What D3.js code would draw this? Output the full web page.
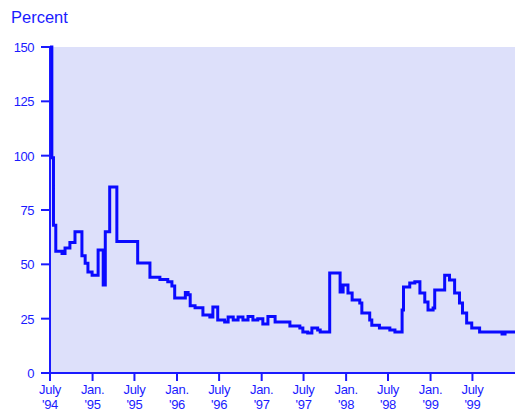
<!DOCTYPE html>
<html>
<head>
<meta charset="utf-8">
<script src="https://cdnjs.cloudflare.com/ajax/libs/d3/7.8.5/d3.min.js"></script>
<style>
  body { margin: 0; background: #fff; }
  text { font-family: "Liberation Sans", Arial, sans-serif; fill: #1a1aff; }
</style>
</head>
<body>
<div id="chart"></div>
<script>
// step series
var dates = ["1994-07-01","1994-07-09","1994-07-16","1994-07-26","1994-08-22","1994-09-04","1994-09-25","1994-10-17",
  "1994-11-16","1994-11-30","1994-12-12","1994-12-30","1995-01-25","1995-02-16","1995-02-25","1995-03-16","1995-04-16",
  "1995-07-15","1995-09-06","1995-10-19","1995-11-22","1995-12-10","1995-12-22","1996-02-06","1996-02-18","1996-02-27",
  "1996-03-19","1996-04-22","1996-05-22","1996-06-04","1996-06-25","1996-07-25","1996-08-09","1996-08-31","1996-09-21",
  "1996-10-12","1996-11-03","1996-11-24","1996-12-15","1997-01-06","1997-01-28","1997-02-28","1997-05-03","1997-06-15",
  "1997-06-28","1997-07-19","1997-08-06","1997-08-31","1997-09-11","1997-10-22","1997-12-06","1997-12-19","1998-01-09",
  "1998-01-27","1998-03-01","1998-03-10","1998-04-13","1998-04-22","1998-05-25","1998-07-09","1998-07-31","1998-08-31",
  "1998-09-06","1998-10-03","1998-10-25","1998-11-16","1998-12-07","1998-12-21","1999-01-12","1999-01-19","1999-03-03",
  "1999-03-24","1999-04-15","1999-05-06","1999-05-19","1999-06-06","1999-06-28","1999-08-01","1999-11-06","1999-11-19",
  "2000-01-01"];
var values = [150,99,68,56,55,57.5,60,65,
  54,50.5,46.5,45,56.6,40.5,65,85.6,60.5,
  50.6,44,43,42,40,34.5,37,36,31,
  30,26.7,25.8,30.4,24.4,23.5,25.8,24.4,25.8,
  24.4,26,24.4,25,22.5,26,23.5,21.6,20.7,
  18.9,18.4,20.7,19.8,18.9,46,37.3,40.5,36.8,
  33.6,32.2,27.6,24.4,22,20.7,19.8,18.9,29,
  39.6,41.4,42,36.8,32.7,29,29.9,38.2,45,
  42.8,36.8,32.2,27.6,23,20.7,18.9,18,18.9,
  18.9];
var yTicks = [0,25,50,75,100,125,150];
var xTicks = ["1994-07-01","1995-01-01","1995-07-01","1996-01-01","1996-07-01","1997-01-01",
  "1997-07-01","1998-01-01","1998-07-01","1999-01-01","1999-07-01"];

var width = 515, height = 412;
var m = {left: 50, top: 47, bottom: 373, right: 515};
var blue = "#1a1aff";
var parse = d3.timeParse("%Y-%m-%d");

var data = dates.map(function(d, i){ return {date: parse(d), value: values[i]}; });

var svg = d3.select("#chart").append("svg")
  .attr("width", width)
  .attr("height", height);

var x = d3.scaleTime()
  .domain([parse("1994-07-01"), parse("2000-01-01")])
  .range([m.left, m.right]);
var y = d3.scaleLinear()
  .domain([0, 150])
  .range([m.bottom, m.top]);

svg.append("rect")
  .attr("x", m.left).attr("y", m.top)
  .attr("width", m.right - m.left).attr("height", m.bottom - m.top)
  .attr("fill", "#dde0fa");

svg.append("text")
  .attr("x", 11).attr("y", 23)
  .style("font-size", "16.5px")
  .text("Percent");

// y axis
var yAxis = svg.append("g");
yAxis.append("line")
  .attr("x1", m.left).attr("x2", m.left)
  .attr("y1", m.top).attr("y2", m.bottom)
  .attr("stroke", blue).attr("stroke-width", 2);
yAxis.selectAll(".yt").data(yTicks).enter().append("line")
  .attr("x1", m.left - 9).attr("x2", m.left)
  .attr("y1", function(d){ return y(d); }).attr("y2", function(d){ return y(d); })
  .attr("stroke", blue).attr("stroke-width", 2);
yAxis.selectAll(".yl").data(yTicks).enter().append("text")
  .attr("x", m.left - 16).attr("y", function(d){ return y(d) + 5; })
  .attr("text-anchor", "end")
  .style("font-size", "13px")
  .style("letter-spacing", "-0.5px")
  .text(function(d){ return d; });

// x axis
var xAxis = svg.append("g");
xAxis.append("line")
  .attr("x1", m.left - 9).attr("x2", m.right)
  .attr("y1", m.bottom).attr("y2", m.bottom)
  .attr("stroke", blue).attr("stroke-width", 2);
var fmtMon = d3.timeFormat("%m"), fmtYr = d3.timeFormat("%y");
var xt = xAxis.selectAll(".xt").data(xTicks.map(parse)).enter().append("g")
  .attr("transform", function(d){ return "translate(" + x(d) + ",0)"; });
xt.append("line")
  .attr("y1", m.bottom).attr("y2", m.bottom + 8)
  .attr("stroke", blue).attr("stroke-width", 2);
xt.append("text")
  .attr("y", m.bottom + 21).attr("text-anchor", "middle")
  .style("font-size", "13px").style("letter-spacing", "-0.3px")
  .text(function(d){ return fmtMon(d) === "07" ? "July" : "Jan."; });
xt.append("text")
  .attr("y", m.bottom + 36).attr("text-anchor", "middle")
  .style("font-size", "13px").style("letter-spacing", "-0.3px")
  .text(function(d){ return "'" + fmtYr(d); });

var line = d3.line()
  .curve(d3.curveStepAfter)
  .x(function(d){ return x(d.date); })
  .y(function(d){ return y(d.value); });

svg.append("path")
  .datum(data)
  .attr("d", line)
  .attr("fill", "none")
  .attr("stroke", "#0a0aff")
  .attr("stroke-width", 3);
</script>
</body>
</html>
